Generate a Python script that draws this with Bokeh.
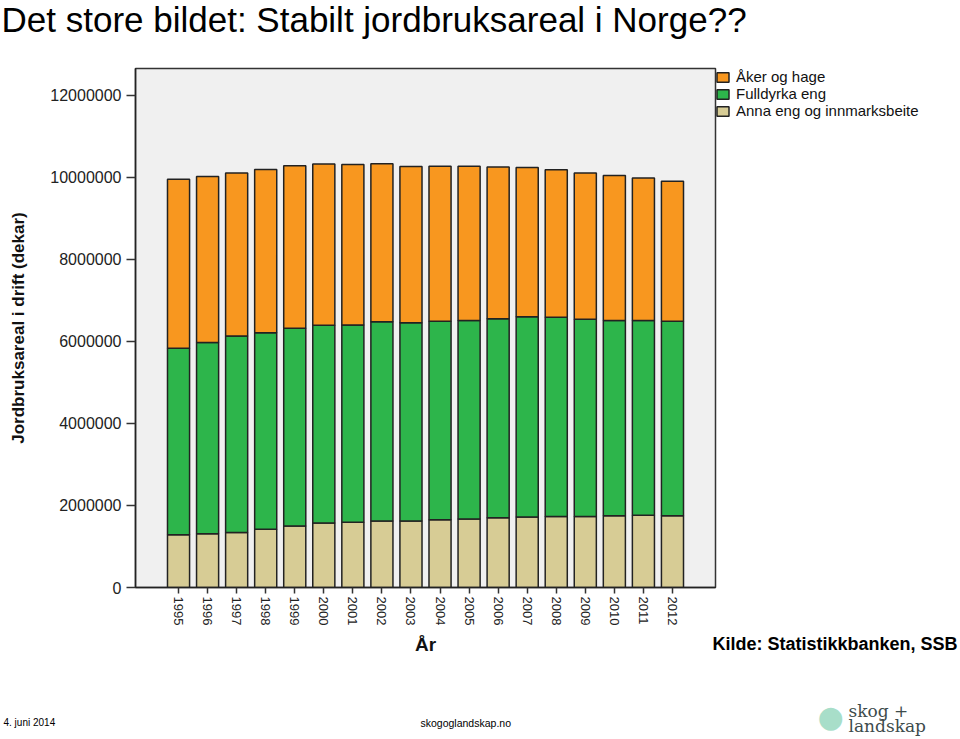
import math
from bokeh.plotting import figure
from bokeh.models import (FactorRange, Range1d, FixedTicker, BasicTickFormatter,
                          Legend, LegendItem, Label, ColumnDataSource)
from bokeh.embed import file_html
from bokeh.resources import INLINE

years = ["1995", "1996", "1997", "1998", "1999", "2000", "2001", "2002", "2003",
         "2004", "2005", "2006", "2007", "2008", "2009", "2010", "2011", "2012"]

anna_eng = [1285000, 1310000, 1340000, 1420000, 1500000, 1570000, 1590000, 1620000, 1620000,
            1650000, 1670000, 1700000, 1720000, 1730000, 1730000, 1750000, 1760000, 1750000]
fulldyrka_eng = [4545000, 4660000, 4790000, 4790000, 4820000, 4820000, 4810000, 4860000, 4830000,
                 4840000, 4840000, 4850000, 4880000, 4860000, 4810000, 4760000, 4750000, 4740000]
aker_og_hage = [4120000, 4050000, 3970000, 3980000, 3960000, 3930000, 3910000, 3850000, 3810000,
                3780000, 3760000, 3700000, 3640000, 3590000, 3560000, 3530000, 3470000, 3410000]

series_names = ["Anna eng og innmarksbeite", "Fulldyrka eng", "Åker og hage"]
series_colors = ["#D7CC95", "#2DB54B", "#F8971F"]

y_ticks = [0, 2000000, 4000000, 6000000, 8000000, 10000000, 12000000]

src = ColumnDataSource(dict(year=years, anna=anna_eng, fulldyrka=fulldyrka_eng, aker=aker_og_hage))

FONT = "Liberation Sans"

p = figure(x_range=FactorRange(factors=years, range_padding=0.109),
           y_range=Range1d(0, 12650000),
           frame_width=580, frame_height=519,
           output_backend="svg", toolbar_location=None,
           min_border_left=135, min_border_right=243, min_border_top=68, min_border_bottom=150,
           background_fill_color="#F0F0F0", border_fill_color="white",
           outline_line_color="#333333", outline_line_width=1.5)

rs = p.vbar_stack(["anna", "fulldyrka", "aker"], x="year", width=0.76, source=src,
                  fill_color=series_colors, line_color="#222222", line_width=1.5)

p.xgrid.visible = False
p.ygrid.visible = False

p.yaxis.ticker = FixedTicker(ticks=y_ticks)
p.yaxis.formatter = BasicTickFormatter(use_scientific=False)
p.yaxis.minor_tick_line_color = None
p.yaxis.major_tick_out = 9
p.yaxis.major_tick_in = 0
p.yaxis.major_label_standoff = 5
p.yaxis.axis_label = "Jordbruksareal i drift (dekar)"
p.yaxis.axis_label_standoff = 19

p.xaxis.major_label_orientation = -math.pi / 2
p.xaxis.major_tick_out = 6
p.xaxis.major_tick_in = 0
p.xaxis.major_label_standoff = 3
p.xaxis.axis_label = "År"
p.xaxis.axis_label_standoff = 6

for ax in (p.xaxis[0], p.yaxis[0]):
    ax.axis_line_color = "#222222"
    ax.axis_line_width = 1.5
    ax.major_tick_line_color = "#333333"
    ax.major_tick_line_width = 1.5
    ax.major_label_text_font = FONT
    ax.major_label_text_color = "#222222"
    ax.axis_label_text_font = FONT
    ax.axis_label_text_font_style = "bold"
    ax.axis_label_text_color = "#111111"

p.yaxis.major_label_text_font_size = "16px"
p.xaxis.major_label_text_font_size = "13px"
p.yaxis.axis_label_text_font_size = "17px"
p.xaxis.axis_label_text_font_size = "19px"

legend = Legend(items=[LegendItem(label=series_names[2], renderers=[rs[2]]),
                       LegendItem(label=series_names[1], renderers=[rs[1]]),
                       LegendItem(label=series_names[0], renderers=[rs[0]])],
                location="top_left", margin=0, padding=3, spacing=0,
                glyph_width=15, glyph_height=12, label_height=13, label_standoff=6,
                label_text_font=FONT, label_text_font_size="15px", label_text_color="#111111",
                label_text_baseline="middle",
                border_line_color=None, background_fill_alpha=0)
p.add_layout(legend, "right")

def add_text(side, text, x, y, size, align="left", style="normal", font=FONT,
             color="#000000", baseline="alphabetic"):
    p.add_layout(Label(x=x, y=y, x_units="canvas", y_units="canvas", text=text,
                       text_font=font, text_font_size=size, text_font_style=style,
                       text_color=color, text_align=align, text_baseline=baseline), side)

add_text("above", "Det store bildet: Stabilt jordbruksareal i Norge??", 1, 19, "35px")
add_text("above", "4. juni 2014", 3, 722, "10px")
add_text("below", "skogoglandskap.no", 420, 722, "10.5px")
add_text("below", "Kilde: Statistikkbanken, SSB", 957, 643, "18px", align="right", style="bold")
add_text("below", "skog +", 848, 710, "17px", font="DejaVu Serif", color="#3D4B4B")
add_text("below", "landskap", 848, 725, "17px", font="DejaVu Serif", color="#3D4B4B")
add_text("right", "●", 830, 716, "30px", align="center", font="DejaVu Sans",
         color="#A8DEC9", baseline="middle")

open("out.html", "w").write(file_html(p, INLINE))
